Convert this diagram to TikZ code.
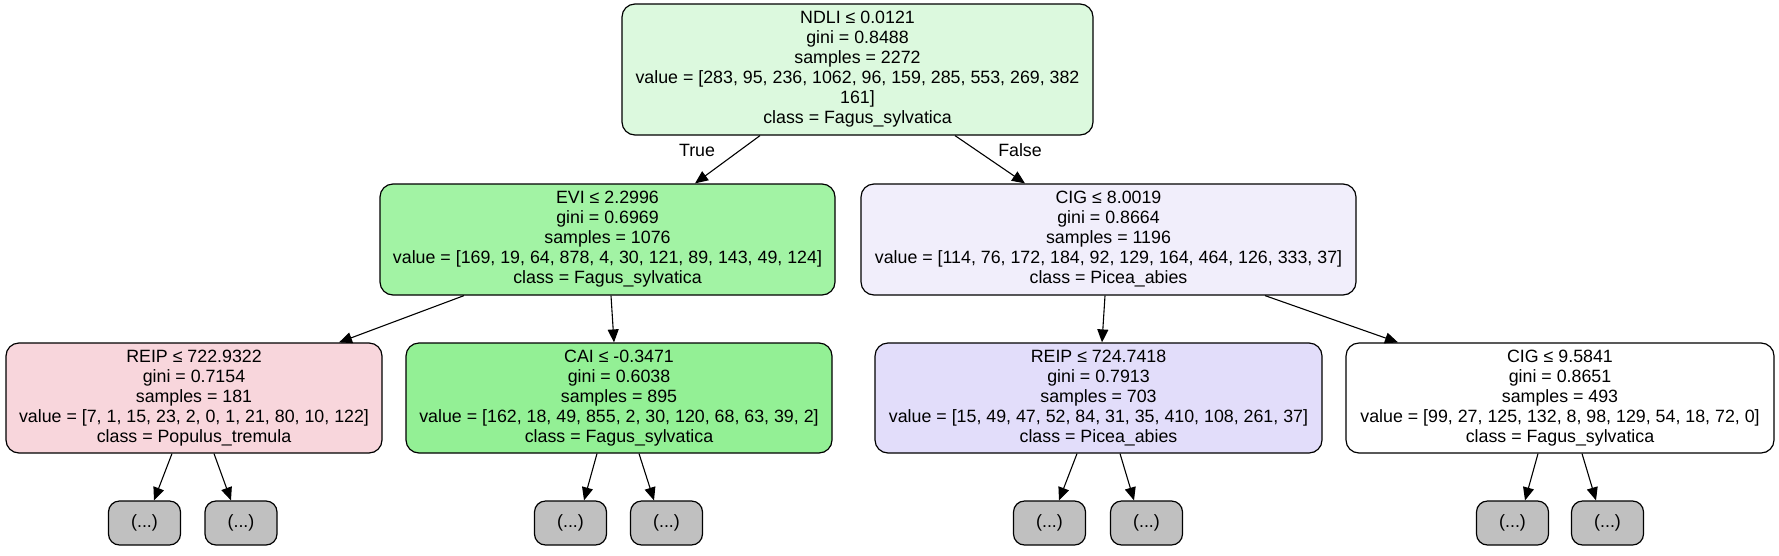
\documentclass[tikz,border=0pt]{standalone}
\usepackage{fontspec}
\setmainfont{Liberation Sans}
\usetikzlibrary{arrows.meta}
\definecolor{cRoot}{RGB}{220,249,222}
\definecolor{cEvi}{RGB}{162,243,164}
\definecolor{cCai}{RGB}{147,240,149}
\definecolor{cReipA}{RGB}{248,214,220}
\definecolor{cCig}{RGB}{241,238,251}
\definecolor{cReipB}{RGB}{226,221,250}
\definecolor{cLeaf}{RGB}{192,192,192}
\tikzset{
  treebox/.style={draw=black, line width=1.2pt, rounded corners=13pt, inner sep=0pt, align=center,
    font=\fontsize{17.8}{20}\selectfont, minimum height=111pt},
  leafbox/.style={draw=black, line width=1.2pt, rounded corners=11pt, inner sep=0pt, fill=cLeaf,
    font=\fontsize{17.8}{20}\selectfont, minimum width=72pt, minimum height=44pt},
  edge/.style={line width=1.1pt, -{Triangle[length=13pt,width=11pt]}},
  elabel/.style={font=\fontsize{17.8}{20}\selectfont, inner sep=0pt}
}
\begin{document}
\begin{tikzpicture}[x=1pt,y=-1pt]
\useasboundingbox (0,0) rectangle (1779,555);
% level 0
\node[treebox, fill=cRoot, minimum width=471pt, minimum height=131pt] (root) at (857.5,69.5)
  {NDLI ≤ 0.0121\\gini = 0.8488\\samples = 2272\\value = [283, 95, 236, 1062, 96, 159, 285, 553, 269, 382\\161]\\class = Fagus\_sylvatica};
% level 1
\node[treebox, fill=cEvi, minimum width=455pt] (evi) at (607.5,239.5)
  {EVI ≤ 2.2996\\gini = 0.6969\\samples = 1076\\value = [169, 19, 64, 878, 4, 30, 121, 89, 143, 49, 124]\\class = Fagus\_sylvatica};
\node[treebox, fill=cCig, minimum width=495pt] (cig) at (1108.5,239.5)
  {CIG ≤ 8.0019\\gini = 0.8664\\samples = 1196\\value = [114, 76, 172, 184, 92, 129, 164, 464, 126, 333, 37]\\class = Picea\_abies};
% level 2
\node[treebox, fill=cReipA, minimum width=376pt, minimum height=110pt] (reipa) at (194,398)
  {REIP ≤ 722.9322\\gini = 0.7154\\samples = 181\\value = [7, 1, 15, 23, 2, 0, 1, 21, 80, 10, 122]\\class = Populus\_tremula};
\node[treebox, fill=cCai, minimum width=426pt, minimum height=110pt] (cai) at (619,398)
  {CAI ≤ -0.3471\\gini = 0.6038\\samples = 895\\value = [162, 18, 49, 855, 2, 30, 120, 68, 63, 39, 2]\\class = Fagus\_sylvatica};
\node[treebox, fill=cReipB, minimum width=447pt, minimum height=110pt] (reipb) at (1098.5,398)
  {REIP ≤ 724.7418\\gini = 0.7913\\samples = 703\\value = [15, 49, 47, 52, 84, 31, 35, 410, 108, 261, 37]\\class = Picea\_abies};
\node[treebox, fill=white, minimum width=428pt, minimum height=110pt] (ciga) at (1560,398)
  {CIG ≤ 9.5841\\gini = 0.8651\\samples = 493\\value = [99, 27, 125, 132, 8, 98, 129, 54, 18, 72, 0]\\class = Fagus\_sylvatica};
% leaves
\node[leafbox] (l1) at (144.5,523) {(...)};
\node[leafbox] (l2) at (241,523) {(...)};
\node[leafbox] (l3) at (570.5,523) {(...)};
\node[leafbox] (l4) at (666.5,523) {(...)};
\node[leafbox] (l5) at (1049.5,523) {(...)};
\node[leafbox] (l6) at (1146.5,523) {(...)};
\node[leafbox] (l7) at (1512.5,523) {(...)};
\node[leafbox] (l8) at (1607.5,523) {(...)};
% edges
\draw[edge] ([xshift=-97.5pt]root.south) -- ([xshift=87.5pt]evi.north);
\draw[edge] ([xshift=97.5pt]root.south) -- ([xshift=-83.5pt]cig.north);
\node[elabel] (ltrue) at (697,150) {True};
\node[elabel] (lfalse) at (1020,150) {False};
\draw[edge] ([xshift=-143.5pt]evi.south) -- ([xshift=145pt]reipa.north);
\draw[edge] ([xshift=3.5pt]evi.south) -- ([xshift=-5pt]cai.north);
\draw[edge] ([xshift=-3.5pt]cig.south) -- ([xshift=3.5pt]reipb.north);
\draw[edge] ([xshift=156.5pt]cig.south) -- ([xshift=-162pt]ciga.north);
\draw[edge] ([xshift=-22pt]reipa.south) -- ([xshift=9.5pt]l1.north);
\draw[edge] ([xshift=20pt]reipa.south) -- ([xshift=-10pt]l2.north);
\draw[edge] ([xshift=-22pt]cai.south) -- ([xshift=13.5pt]l3.north);
\draw[edge] ([xshift=20pt]cai.south) -- ([xshift=-12.5pt]l4.north);
\draw[edge] ([xshift=-21.5pt]reipb.south) -- ([xshift=9.5pt]l5.north);
\draw[edge] ([xshift=21.5pt]reipb.south) -- ([xshift=-12.5pt]l6.north);
\draw[edge] ([xshift=-22pt]ciga.south) -- ([xshift=12.5pt]l7.north);
\draw[edge] ([xshift=22pt]ciga.south) -- ([xshift=-11.5pt]l8.north);
\end{tikzpicture}
\end{document}
